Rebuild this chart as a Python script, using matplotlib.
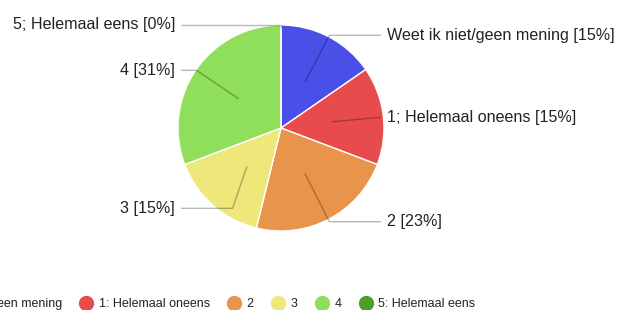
import numpy as np
import matplotlib.pyplot as plt
from matplotlib.lines import Line2D

plt.rcParams['font.family'] = ['Liberation Sans', 'DejaVu Sans']

categories = ["Weet ik niet/geen mening", "1; Helemaal oneens", "2", "3", "4", "5; Helemaal eens"]
legend_names = ["Weet ik niet/geen mening", "1: Helemaal oneens", "2", "3", "4", "5: Helemaal eens"]
counts = [2, 2, 3, 2, 4, 0]
colors = ["#4a4fe8", "#e84b4b", "#e8944a", "#eee77a", "#8fdf5a", "#4d9e2b"]

# label placement (data coords, radius = 1), right side / left side
label_pos = [(1.03, 0.90), (1.03, 0.105), (1.03, -0.91), (-1.03, -0.78), (-1.03, 0.56), (-1.03, 1.0)]
elbow_x = [0.47, None, 0.47, -0.47, -0.82, 0.0]

fig = plt.figure(figsize=(6.22, 3.1), dpi=100)
cx, cy, r = 281, 128, 103
ax = fig.add_axes([(cx - r) / 622, (310 - cy - r) / 310, 2 * r / 622, 2 * r / 310])

total = sum(counts)
wedges, _ = ax.pie(counts, colors=colors, startangle=90, counterclock=False,
                   wedgeprops=dict(edgecolor="white", linewidth=1))
ax.set_xlim(-1, 1)
ax.set_ylim(-1, 1)
ax.set_aspect("equal")
ax.axis("off")

for i, w in enumerate(wedges):
    pct = round(100 * counts[i] / total)
    ang = np.deg2rad((w.theta1 + w.theta2) / 2)
    lx, ly = label_pos[i]
    if counts[i] == 0:
        ax0 = (np.cos(ang), np.sin(ang) * 0.97)
    else:
        ax0 = (0.5 * np.cos(ang), 0.5 * np.sin(ang))
    right = lx > 0
    end_x = lx - 0.06 if right else lx + 0.06
    if elbow_x[i] is None:
        xs = [ax0[0], end_x]
        ys = [ax0[1], ly]
    else:
        xs = [ax0[0], elbow_x[i], end_x]
        ys = [ax0[1], ly, ly]
    ax.plot(xs, ys, color="black", alpha=0.28, lw=1, clip_on=False,
            solid_capstyle="butt")
    ax.text(lx, ly, f"{categories[i]} [{pct}%]", ha="left" if right else "right",
            va="center", fontsize=11.6, color="#222222")

handles = [Line2D([], [], marker="o", linestyle="none", markersize=10,
                  markerfacecolor=c, markeredgecolor=c) for c in colors]
fig.legend(handles, legend_names, ncol=6, loc="center left",
           bbox_to_anchor=(-0.176, 1 - 304 / 310), frameon=False, fontsize=9,
           handletextpad=0.5, columnspacing=1.45, handlelength=1.0,
           labelcolor="#222222")

fig.savefig("out.png", dpi=100)
